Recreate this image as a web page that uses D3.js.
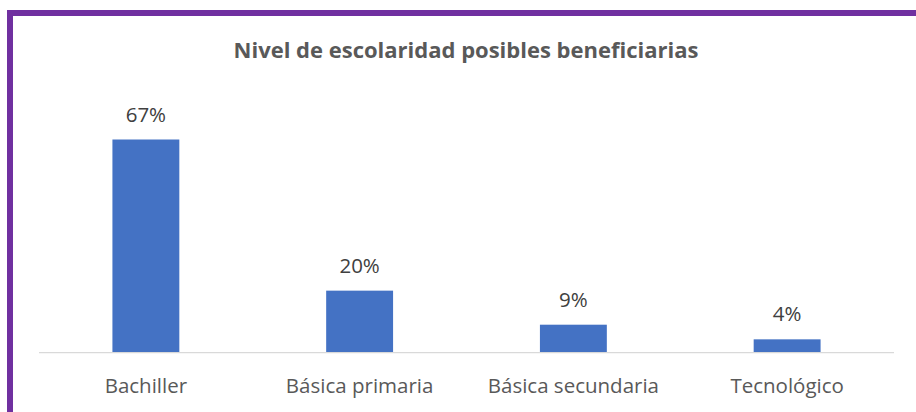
<!DOCTYPE html>
<html>
<head>
<meta charset="utf-8">
<script src="https://cdn.jsdelivr.net/npm/d3@7"></script>
<style>
  body { margin: 0; background: #fff; }
  svg { display: block; }
</style>
</head>
<body>
<div id="chart"></div>
<script>
var categories = ["Bachiller", "Básica primaria", "Básica secundaria", "Tecnológico"];
// bar heights (labels are rounded)
var values = [67, 19.5, 8.8, 4.2];
var valueLabels = ["67%", "20%", "9%", "4%"];
var chartTitle = "Nivel de escolaridad posibles beneficiarias";

function init(){
  var w = 916, h = 412;
  var left = 39, right = 894, base = 352.7;

  var svg = d3.select("#chart").append("svg")
    .attr("width", w)
    .attr("height", h);

  // purple frame (top + left only)
  svg.append("rect").attr("x", 7).attr("y", 10).attr("width", w - 7).attr("height", 6).attr("fill", "#7030A0");
  svg.append("rect").attr("x", 7).attr("y", 10).attr("width", 6).attr("height", h - 10).attr("fill", "#7030A0");

  svg.append("text")
    .attr("x", 466)
    .attr("y", 58)
    .attr("text-anchor", "middle")
    .style("font-family", "'Open Sans', sans-serif")
    .style("font-weight", "bold")
    .style("font-size", "22px")
    .attr("fill", "#595959")
    .text(chartTitle);

  var xScale = d3.scaleBand()
    .domain(categories)
    .range([left, right])
    .paddingInner(0.687)
    .paddingOuter(0.3435);

  var yScale = d3.scaleLinear()
    .domain([0, 67])
    .range([base, 139.5]);

  var data = categories.map(function(c, i){ return {cat: c, v: values[i], lab: valueLabels[i]}; });

  svg.selectAll("rect.bar")
    .data(data)
    .enter().append("rect")
    .attr("class", "bar")
    .attr("x", function(d){ return xScale(d.cat); })
    .attr("y", function(d){ return yScale(d.v); })
    .attr("width", xScale.bandwidth())
    .attr("height", function(d){ return base - yScale(d.v); })
    .attr("fill", "#4472C4");

  svg.selectAll("text.val")
    .data(data)
    .enter().append("text")
    .attr("class", "val")
    .attr("x", function(d){ return xScale(d.cat) + xScale.bandwidth() / 2; })
    .attr("y", function(d){ return yScale(d.v) - 18; })
    .attr("text-anchor", "middle")
    .style("font-family", "'Open Sans', sans-serif")
    .style("font-size", "20.5px")
    .attr("fill", "#404040")
    .text(function(d){ return d.lab; });

  // x axis
  var xAxis = d3.axisBottom(xScale).tickSize(0).tickPadding(0);
  var gx = svg.append("g")
    .attr("transform", "translate(0," + base + ")")
    .call(xAxis);
  gx.select(".domain").attr("stroke", "#D9D9D9").attr("stroke-width", 1.3)
    .attr("d", "M" + left + ",0H" + right);
  gx.selectAll(".tick text")
    .attr("dy", 0)
    .attr("y", 40)
    .style("font-family", "'Open Sans', sans-serif")
    .style("font-size", "20.5px")
    .attr("fill", "#595959");
}

window.onload = init;
</script>
</body>
</html>
